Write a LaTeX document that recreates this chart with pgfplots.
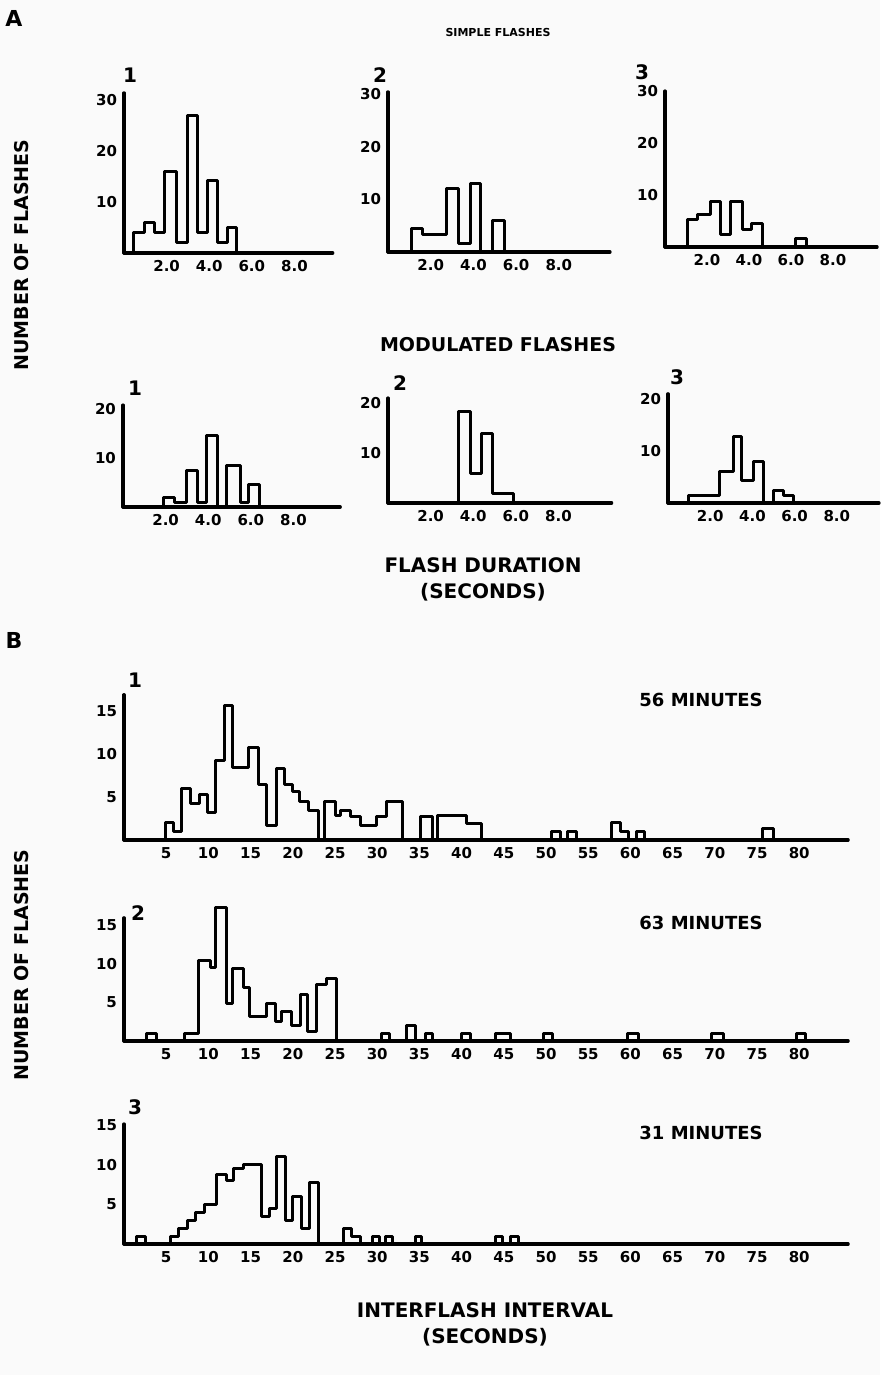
\documentclass[border=0pt]{standalone}
\usepackage{fontspec}
\setmainfont{DejaVu Sans}
\usepackage{pgfplots}
\pgfplotsset{compat=1.18}
\newcommand\tl{\fontsize{7.5}{8}\selectfont\bfseries}
\pgfplotsset{
  hist/.style={
    axis lines=left, axis line style={-, line width=1.6pt, line cap=round},
    enlargelimits=false, clip=false, anchor=south west,
    xmin=0, ymin=0,
    major tick length=0pt, tick style={draw=none},
    tick label style={font=\tl},
    /pgf/number format/assume math mode=true,
  },
  h/.style={const plot, line width=1.5pt, black, line join=round, line cap=round, no marks},
  Atk/.style={xtick={2,4,6,8}, xticklabels={2.0,4.0,6.0,8.0}, ytick={10,20,30}},
  Mtk/.style={xtick={2,4,6,8}, xticklabels={2.0,4.0,6.0,8.0}, ytick={10,20}},
  Btk/.style={xtick={5,10,...,80}, ytick={5,10,15}},
}
\begin{document}
\begin{tikzpicture}
\fill[black!2] (0,0) rectangle (440pt,-687.5pt);
\useasboundingbox (0,0) rectangle (440pt,-687.5pt);
% ---------- A: simple flashes
\begin{axis}[hist, Atk, at={(62pt,-126.5pt)}, x=10.65pt, y=2.55pt, xmax=9.8, ymax=31.4]
\addplot[h] coordinates {(0.45,0) (0.45,4) (0.98,6) (1.45,4) (1.92,16) (2.47,2) (2.97,27) (3.44,4) (3.9,14.3) (4.38,2) (4.85,5) (5.3,0)};
\end{axis}
\begin{axis}[hist, Atk, at={(194pt,-126pt)}, x=10.675pt, y=2.625pt, xmax=10.4, ymax=30.5]
\addplot[h] coordinates {(1.1,0) (1.1,4.5) (1.6,3.4) (2.75,12) (3.3,1.6) (3.85,13.1) (4.35,0) (4.9,6) (5.45,0)};
\end{axis}
\begin{axis}[hist, Atk, at={(332.5pt,-123.5pt)}, x=10.5pt, y=2.6pt, xmax=10.1, ymax=30]
\addplot[h] coordinates {(1.05,0) (1.05,5.3) (1.55,6.2) (2.16,8.7) (2.63,2.4) (3.11,8.7) (3.67,3.4) (4.14,4.5) (4.62,0) (6.2,1.7) (6.76,0)};
\end{axis}
% ---------- A: modulated flashes
\begin{axis}[hist, Mtk, at={(61.5pt,-253.5pt)}, x=10.65pt, y=2.45pt, xmax=10.2, ymax=20.8]
\addplot[h] coordinates {(1.92,0) (1.92,2) (2.44,1) (2.96,7.5) (3.49,1) (3.93,14.5) (4.43,0) (4.87,8.5) (5.53,1) (5.88,4.5) (6.43,0)};
\end{axis}
\begin{axis}[hist, Mtk, at={(194pt,-251.5pt)}, x=10.65pt, y=2.5pt, xmax=10.5, ymax=21]
\addplot[h] coordinates {(3.3,0) (3.3,18.3) (3.85,6) (4.4,14) (4.9,2) (5.9,0)};
\end{axis}
\begin{axis}[hist, Mtk, at={(334pt,-251.5pt)}, x=10.55pt, y=2.6pt, xmax=10, ymax=21]
\addplot[h] coordinates {(0.96,0) (0.96,1.5) (2.46,6) (3.09,12.7) (3.49,4.4) (4.04,8) (4.52,0) (4.99,2.4) (5.46,1.5) (5.97,0)};
\end{axis}
% ---------- B
\begin{axis}[hist, Btk, at={(62pt,-420pt)}, x=4.22pt, y=4.3pt, xmax=85.8, ymax=16.9]
\addplot[h] coordinates {(4.86,0) (4.86,2) (5.92,1) (6.83,6) (7.82,4.3) (8.93,5.3) (9.87,3.2) (10.9,9.2) (11.85,15.6) (12.87,8.4) (14.73,10.7) (15.9,6.5) (16.9,1.7) (18.1,8.3) (18.96,6.5) (19.98,5.6) (20.85,4.5) (21.84,3.4) (23.0,0) (23.7,4.5) (25.0,2.8) (25.7,3.4) (26.8,2.7) (28.0,1.7) (29.9,2.7) (31.1,4.5) (33.0,0) (35.1,2.7) (36.5,0) (37.2,2.9) (40.6,1.9) (42.4,0) (50.7,1) (51.7,0) (52.5,1) (53.6,0) (57.8,2) (58.8,1) (59.75,0) (60.7,1) (61.7,0) (75.7,1.3) (76.9,0)};
\end{axis}
\begin{axis}[hist, Btk, at={(62pt,-520.5pt)}, x=4.22pt, y=3.85pt, xmax=85.8, ymax=16]
\addplot[h] coordinates {(2.7,0) (2.7,1) (3.9,0) (7.2,1) (8.8,10.5) (10.2,9.6) (10.8,17.4) (12.2,4.9) (12.9,9.4) (14.1,7.0) (14.9,3.2) (16.9,4.9) (17.9,2.5) (18.7,3.8) (19.9,2) (20.9,6.0) (21.8,1.2) (22.8,7.3) (24.0,8.1) (25.2,0) (30.5,1) (31.5,0) (33.5,2) (34.5,0) (35.7,1) (36.5,0) (40,1) (41,0) (44,1) (45.8,0) (49.7,1) (50.8,0) (59.7,1) (60.9,0) (69.6,1) (71,0) (79.7,1) (80.7,0)};
\end{axis}
\begin{axis}[hist, Btk, at={(62pt,-622pt)}, x=4.22pt, y=3.95pt, xmax=85.8, ymax=15.2]
\addplot[h] coordinates {(1.5,0) (1.5,1) (2.5,0) (5.5,1) (6.5,2) (7.5,3) (8.5,4) (9.5,5) (11.0,8.8) (12.2,8.0) (13.0,9.5) (14.1,10.1) (16.3,3.5) (17.2,4.5) (18.1,11.1) (19.1,3) (20.0,6) (21.0,2) (22.0,7.8) (23.0,0) (26,2) (27,1) (28,0) (29.5,1) (30.3,0) (31,1) (31.8,0) (34.5,1) (35.3,0) (44,1) (44.8,0) (45.8,1) (46.7,0)};
\end{axis}
% ---------- texts
\node[font=\fontsize{11}{12}\selectfont\bfseries] at (7pt,-9pt) {A};
\node[font=\fontsize{5.5}{6}\selectfont\bfseries] at (249pt,-16pt) {SIMPLE FLASHES};
\node[font=\fontsize{10}{11}\selectfont\bfseries] at (65pt,-37.5pt) {1};
\node[font=\fontsize{10}{11}\selectfont\bfseries] at (190pt,-37.5pt) {2};
\node[font=\fontsize{10}{11}\selectfont\bfseries] at (321pt,-36pt) {3};
\node[font=\fontsize{9.5}{10}\selectfont\bfseries] at (249pt,-172.5pt) {MODULATED FLASHES};
\node[font=\fontsize{10}{11}\selectfont\bfseries] at (67.5pt,-194pt) {1};
\node[font=\fontsize{10}{11}\selectfont\bfseries] at (200pt,-191.5pt) {2};
\node[font=\fontsize{10}{11}\selectfont\bfseries] at (338.5pt,-188.5pt) {3};
\node[font=\fontsize{10}{11}\selectfont\bfseries] at (241.5pt,-282.5pt) {FLASH DURATION};
\node[font=\fontsize{10}{11}\selectfont\bfseries] at (241.5pt,-296pt) {(SECONDS)};
\node[font=\fontsize{11}{12}\selectfont\bfseries] at (7pt,-320pt) {B};
\node[font=\fontsize{10}{11}\selectfont\bfseries] at (67.5pt,-340pt) {1};
\node[font=\fontsize{10}{11}\selectfont\bfseries] at (69pt,-456.5pt) {2};
\node[font=\fontsize{10}{11}\selectfont\bfseries] at (67.5pt,-553.5pt) {3};
\node[font=\fontsize{9}{10}\selectfont\bfseries] at (350.5pt,-350pt) {56 MINUTES};
\node[font=\fontsize{9}{10}\selectfont\bfseries] at (350.5pt,-461.5pt) {63 MINUTES};
\node[font=\fontsize{9}{10}\selectfont\bfseries] at (350.5pt,-566.5pt) {31 MINUTES};
\node[font=\fontsize{10}{11}\selectfont\bfseries] at (242.5pt,-655pt) {INTERFLASH INTERVAL};
\node[font=\fontsize{10}{11}\selectfont\bfseries] at (242.5pt,-668.5pt) {(SECONDS)};
\node[font=\fontsize{9.5}{10}\selectfont\bfseries, rotate=90] at (11pt,-127.5pt) {NUMBER OF FLASHES};
\node[font=\fontsize{9.5}{10}\selectfont\bfseries, rotate=90] at (11pt,-482.5pt) {NUMBER OF FLASHES};
\end{tikzpicture}
\end{document}
